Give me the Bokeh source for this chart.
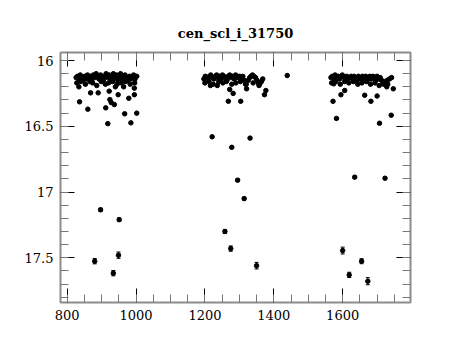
from bokeh.plotting import figure
from bokeh.models import (Range1d, SingleIntervalTicker, LinearAxis, Whisker, TeeHead,
                          ColumnDataSource, NumeralTickFormatter)
from bokeh.embed import file_html
from bokeh.resources import INLINE

title_text = "cen_scl_i_31750"

# --- dense band, first season ---
band1_x = [826, 830, 834, 838, 842, 846, 851, 855, 859, 863, 867, 871, 876, 880, 884, 888, 892, 897, 901, 905,
           909, 913, 918, 922, 926, 930, 934, 939, 943, 947, 951, 955, 960, 964, 968, 972, 976, 981, 985, 989,
           993, 997, 1002,
           828, 840, 853, 866, 874, 886, 899, 911, 920, 932, 945, 957, 970, 983, 996]
band1_y = [16.13, 16.12, 16.14, 16.11, 16.13, 16.15, 16.12, 16.14, 16.11, 16.13, 16.12, 16.15, 16.11, 16.13, 16.10,
           16.12, 16.14, 16.11, 16.13, 16.15, 16.12, 16.10, 16.13, 16.11, 16.14, 16.12, 16.10, 16.13, 16.11, 16.15,
           16.12, 16.10, 16.14, 16.12, 16.11, 16.13, 16.15, 16.12, 16.14, 16.13, 16.11, 16.14, 16.12,
           16.17, 16.16, 16.18, 16.16, 16.17, 16.19, 16.16, 16.18, 16.17, 16.16, 16.18, 16.17, 16.16, 16.18, 16.17]

# --- dense band, second season ---
band2_x = [1197, 1201, 1205, 1209, 1213, 1217, 1222, 1226, 1230, 1234, 1238, 1243, 1247, 1251, 1255, 1259, 1264,
           1268, 1272, 1276, 1280, 1285, 1289, 1293, 1297, 1301, 1306, 1310, 1314, 1326, 1330, 1334, 1338, 1342,
           1347, 1351, 1355, 1359, 1364, 1368,
           1200, 1212, 1224, 1240, 1252, 1262, 1278, 1290, 1303, 1320, 1340, 1357]
band2_y = [16.14, 16.12, 16.13, 16.15, 16.12, 16.11, 16.13, 16.14, 16.12, 16.11, 16.13, 16.12, 16.14, 16.11, 16.12,
           16.13, 16.15, 16.12, 16.11, 16.13, 16.12, 16.14, 16.11, 16.12, 16.13, 16.12, 16.14, 16.12, 16.15, 16.15,
           16.13, 16.12, 16.11, 16.12, 16.13, 16.15, 16.17, 16.18, 16.16, 16.14,
           16.17, 16.16, 16.18, 16.16, 16.17, 16.16, 16.18, 16.17, 16.16, 16.18, 16.17, 16.19]

# --- dense band, third season ---
band3_x = [1566, 1570, 1574, 1578, 1583, 1587, 1591, 1595, 1599, 1604, 1608, 1612, 1616, 1620, 1625, 1629, 1633,
           1637, 1641, 1646, 1650, 1654, 1658, 1662, 1667, 1671, 1675, 1679, 1683, 1688, 1692, 1696, 1700, 1704,
           1709, 1713, 1717, 1721, 1725, 1730, 1736, 1742,
           1568, 1580, 1593, 1606, 1618, 1631, 1644, 1656, 1669, 1681, 1694, 1706, 1719, 1728]
band3_y = [16.13, 16.12, 16.14, 16.11, 16.13, 16.12, 16.14, 16.12, 16.11, 16.13, 16.15, 16.12, 16.14, 16.13, 16.12,
           16.14, 16.12, 16.13, 16.15, 16.12, 16.14, 16.13, 16.12, 16.14, 16.12, 16.15, 16.13, 16.12, 16.14, 16.12,
           16.13, 16.15, 16.12, 16.14, 16.13, 16.15, 16.17, 16.16, 16.18, 16.15, 16.14, 16.13,
           16.17, 16.16, 16.18, 16.16, 16.17, 16.16, 16.18, 16.17, 16.16, 16.18, 16.17, 16.19, 16.18, 16.20]

# --- scattered points (time, magnitude, error) ---
scat_x = [834, 868, 890, 922, 940, 964, 948, 995, 995, 979, 836, 924, 928, 937, 860, 912, 967, 1002, 918, 985,
          897, 951, 880, 949, 934,
          1216, 1236, 1272, 1282, 1321, 1318, 1377, 1373, 1268, 1304, 1439,
          1221, 1331, 1278, 1295, 1314, 1258, 1275, 1350,
          1574, 1572, 1595, 1606, 1664, 1682, 1700, 1731, 1747, 1582, 1741, 1707,
          1635, 1723, 1600, 1655, 1619, 1673]
scat_y = [16.20, 16.246, 16.246, 16.233, 16.20, 16.20, 16.26, 16.21, 16.26, 16.287, 16.314, 16.297, 16.32, 16.335,
          16.37, 16.36, 16.405, 16.40, 16.48, 16.474,
          17.135, 17.21, 17.526, 17.48, 17.617,
          16.19, 16.19, 16.22, 16.25, 16.215, 16.18, 16.228, 16.26, 16.31, 16.31, 16.114,
          16.58, 16.59, 16.66, 16.91, 17.05, 17.30, 17.43, 17.56,
          16.177, 16.31, 16.26, 16.228, 16.264, 16.31, 16.27, 16.18, 16.215, 16.44, 16.416, 16.477,
          16.887, 16.895, 17.445, 17.526, 17.63, 17.678]
scat_err = [0.004, 0.004, 0.004, 0.004, 0.004, 0.004, 0.004, 0.004, 0.004, 0.004, 0.004, 0.004, 0.004, 0.004,
            0.005, 0.005, 0.005, 0.005, 0.005, 0.005,
            0.012, 0.013, 0.020, 0.024, 0.020,
            0.004, 0.004, 0.004, 0.004, 0.004, 0.004, 0.004, 0.004, 0.004, 0.004, 0.004,
            0.006, 0.006, 0.006, 0.010, 0.010, 0.015, 0.020, 0.025,
            0.004, 0.004, 0.004, 0.004, 0.004, 0.004, 0.004, 0.004, 0.004, 0.005, 0.005, 0.005,
            0.010, 0.010, 0.026, 0.019, 0.020, 0.027]

band_err = 0.003

xs = band1_x + band2_x + band3_x + scat_x
ys = band1_y + band2_y + band3_y + scat_y
es = [band_err] * (len(band1_x) + len(band2_x) + len(band3_x)) + scat_err

src = ColumnDataSource(dict(x=xs, y=ys,
                            upper=[a - b for a, b in zip(ys, es)],
                            lower=[a + b for a, b in zip(ys, es)]))

FONT = "DejaVu Serif"

p = figure(width=444, height=324, x_range=Range1d(780.6, 1797), y_range=Range1d(17.84, 15.939),
           output_backend="svg", toolbar_location=None,
           min_border_left=60, min_border_right=34, min_border_top=52, min_border_bottom=22,
           title=title_text)
p.title.text_font = FONT
p.title.text_font_size = "13px"
p.title.text_font_style = "bold"
p.title.align = "center"
p.title.text_color = "black"
try:
    p.title.standoff = 24
except AttributeError:
    pass

p.xgrid.visible = False
p.ygrid.visible = False
p.outline_line_color = "#8c8c8c"
p.outline_line_width = 2
p.background_fill_color = "white"
p.border_fill_color = "white"

xt = SingleIntervalTicker(interval=200, num_minor_ticks=4)
yt = SingleIntervalTicker(interval=0.5, num_minor_ticks=5)


def style(ax, labels=True):
    ax.axis_line_color = None
    ax.major_tick_in = 14
    ax.major_tick_out = 0
    ax.minor_tick_in = 8
    ax.minor_tick_out = 0
    ax.major_tick_line_color = "black"
    ax.minor_tick_line_color = "#777777"
    ax.major_tick_line_width = 1
    ax.minor_tick_line_width = 1
    if labels:
        ax.major_label_text_font = FONT
        ax.major_label_text_font_size = "13px"
        ax.major_label_text_color = "black"
    else:
        ax.major_label_text_color = None
        ax.major_label_text_font_size = "1px"
        ax.major_label_standoff = 0


p.xaxis.ticker = xt
p.yaxis.ticker = yt
p.yaxis.formatter = NumeralTickFormatter(format="0.[0]")
style(p.xaxis[0])
style(p.yaxis[0])
p.xaxis.major_label_standoff = 7
p.yaxis.major_label_standoff = 7

top = LinearAxis(ticker=xt)
style(top, labels=False)
p.add_layout(top, "above")
right = LinearAxis(ticker=yt)
style(right, labels=False)
p.add_layout(right, "right")

p.add_layout(Whisker(base="x", upper="upper", lower="lower", source=src, dimension="height",
                     line_color="black", line_width=1,
                     upper_head=TeeHead(size=4, line_color="black", line_width=1),
                     lower_head=TeeHead(size=4, line_color="black", line_width=1)))
p.scatter("x", "y", source=src, size=4.5, color="black")

open("out.html", "w").write(file_html(p, INLINE))
